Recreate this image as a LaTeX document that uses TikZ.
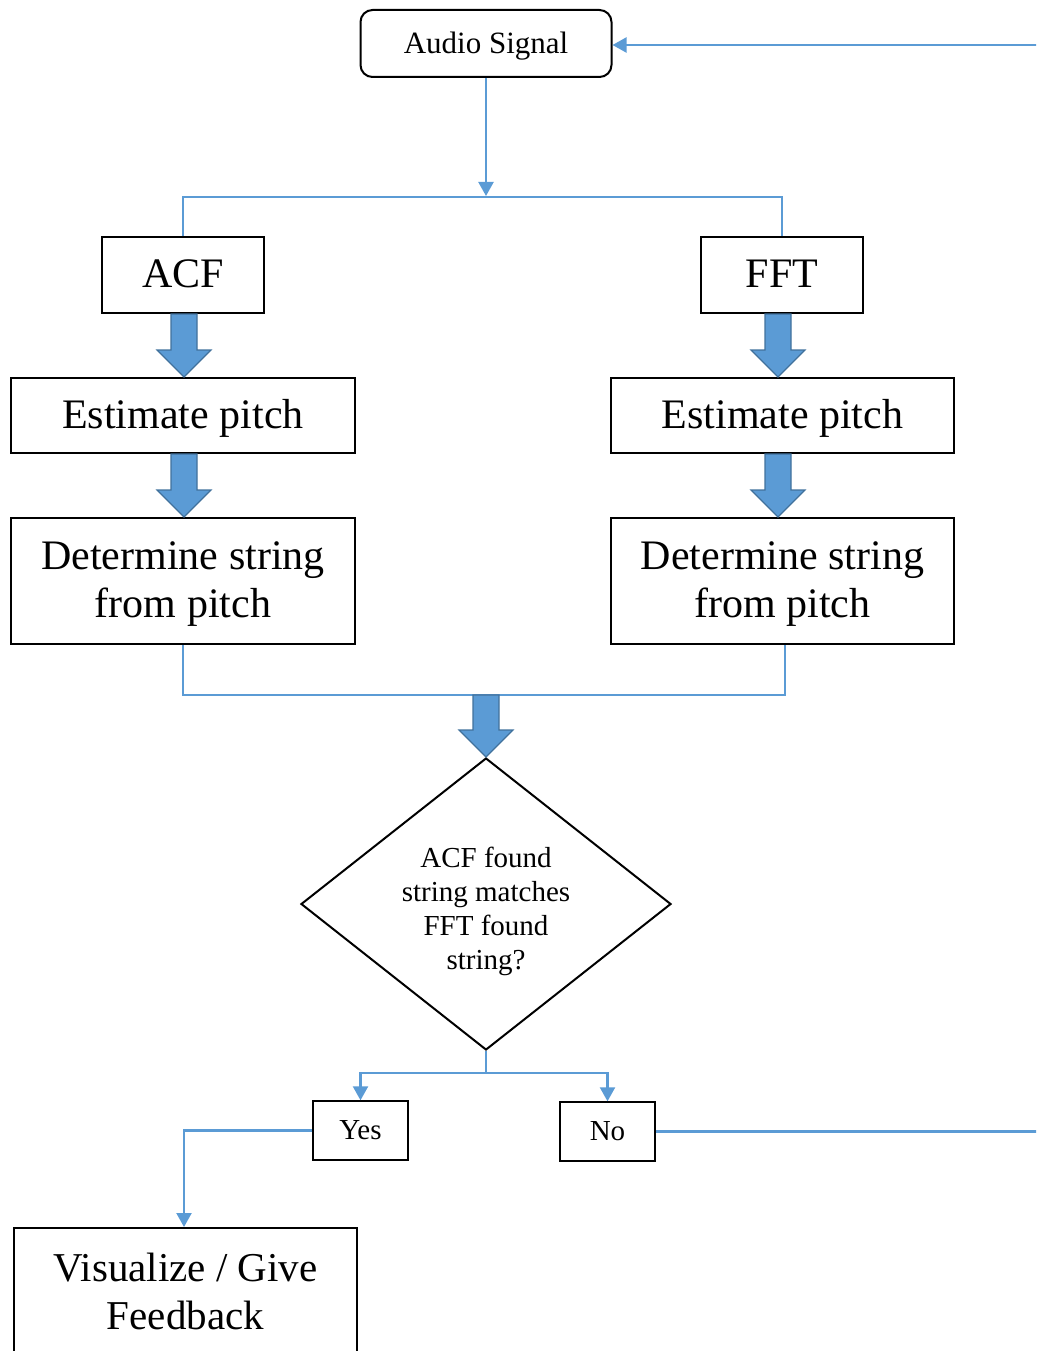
\documentclass[tikz,border=0pt]{standalone}
\usepackage{fontspec}
\setmainfont{Liberation Serif}
\usetikzlibrary{arrows.meta,shapes.geometric,calc}
\definecolor{lblue}{HTML}{5B9BD5}
\definecolor{dblue}{HTML}{41719C}
\newcommand\blockarr[2]{%
  \draw[barrow] ($(#1)+(-13,0)$) -- ($(#2)+(-13,-27)$) -- ($(#2)+(-27,-27)$) -- (#2)
    -- ($(#2)+(27,-27)$) -- ($(#2)+(13,-27)$) -- ($(#1)+(13,0)$) -- cycle;}
\begin{document}
\begin{tikzpicture}[x=1pt,y=-1pt,
  box/.style={draw=black,line width=2pt,inner sep=0pt,align=center},
  conn/.style={draw=lblue,line width=2.2pt,-{Triangle[length=14pt,width=15pt]}},
  plain/.style={draw=lblue,line width=2.2pt},
  barrow/.style={fill=lblue,draw=dblue,line width=1.2pt,line join=miter},
  big/.style={font=\fontsize{42}{48}\selectfont,text depth=3pt},
  mid/.style={font=\fontsize{31}{36}\selectfont,text depth=1pt},
  small/.style={font=\fontsize{29}{34}\selectfont}]
\useasboundingbox (0,0) rectangle (1036,1351);
\clip (0,0) rectangle (1036,1351);

\node[box,mid,rounded corners=12pt,minimum width=251pt,minimum height=67pt] (audio) at (486,43.5) {Audio Signal};
\node[box,big,minimum width=162pt,minimum height=76pt] (acf) at (183,275) {ACF};
\node[box,big,minimum width=162pt,minimum height=76pt] (fft) at (782,275) {FFT};
\node[box,big,minimum width=344pt,minimum height=75pt] (est1) at (183,415.5) {Estimate pitch};
\node[box,big,minimum width=343pt,minimum height=75pt] (est2) at (782.5,415.5) {Estimate pitch};
\node[box,big,minimum width=344pt,minimum height=126pt] (det1) at (183,581) {Determine string\\from pitch};
\node[box,big,minimum width=343pt,minimum height=126pt] (det2) at (782.5,581) {Determine string\\from pitch};
\node[draw=black,line width=2pt,diamond,inner sep=0pt,minimum width=370pt,minimum height=292pt] (dec) at (486,904) {};
\node[small,align=center,inner sep=0pt] (dectext) at (486,911) {ACF found\\string matches\\FFT found\\string?};
\node[box,small,line width=1.4pt,minimum width=95pt,minimum height=59pt] (yes) at (360.5,1130.5) {Yes};
\node[box,small,line width=1.4pt,minimum width=95pt,minimum height=59pt] (no) at (607.5,1131.5) {No};
\node[box,font=\fontsize{41}{48}\selectfont,minimum width=343pt,minimum height=126pt] (vis) at (185.5,1291) {Visualize / Give\\Feedback};

% connectors
\coordinate (split) at (audio.south |- 0,197);
\draw[conn] (audio.south) -- ($(split)+(0,-1)$);
\draw[plain] (acf.north) |- (split) -| (fft.north);

\coordinate (a1) at ($(acf.south)+(1,0)$);
\coordinate (a2) at ($(est1.north)+(1,0)$);
\coordinate (a3) at ($(est1.south)+(1,0)$);
\coordinate (a4) at ($(det1.north)+(1,0)$);
\coordinate (b1) at ($(fft.south)+(-4,0)$);
\coordinate (b2) at ($(est2.north)+(-4.5,0)$);
\coordinate (b3) at ($(est2.south)+(-4.5,0)$);
\coordinate (b4) at ($(det2.north)+(-4.5,0)$);
\blockarr{a1}{a2}
\blockarr{a3}{a4}
\blockarr{b1}{b2}
\blockarr{b3}{b4}

\coordinate (merge) at (486,695);
\draw[plain] (det1.south) |- (merge) -| ($(det2.south)+(2.5,0)$);
\blockarr{merge}{dec.north}

\coordinate (yn) at ($(dec.south)+(0,22)$);
\draw[plain] (dec.south) -- (yn);
\draw[conn] (yn) -| (yes.north);
\draw[conn] (yn) -| (no.north);
\draw[conn] (yes.west) -| ($(vis.north)+(-1.5,0)$);
\coordinate (ain) at ($(audio.east)+(0,1.5)$);
\draw[conn] (no.east) -- ++(420,0) |- (ain);
\end{tikzpicture}
\end{document}
